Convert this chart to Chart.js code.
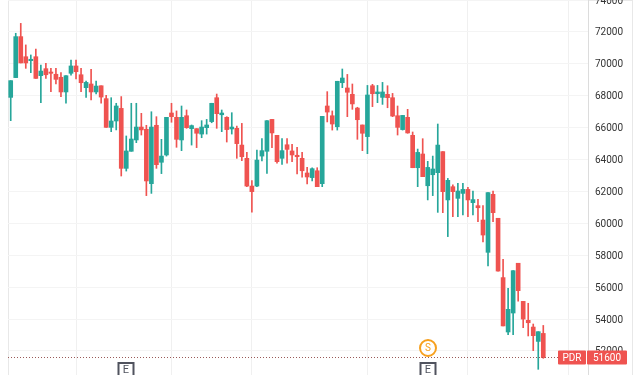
<!DOCTYPE html>
<html>
<head>
<meta charset="utf-8">
<style>
  html, body { margin: 0; padding: 0; background: #fff; overflow: hidden; }
  canvas { display: block; filter: blur(0.35px); }
</style>
<script src="https://cdn.jsdelivr.net/npm/chart.js@4/dist/chart.umd.min.js"></script>
</head>
<body>
<canvas id="chart" width="640" height="375"></canvas>
<script>
const opens = [
  67900,69140,71710,70450,70200,70450,69260,69700,69490,69350,69160,68240,69410,69870,69320,68510,68740,68240,68630,67820,66020,66420,67210,63450,64520,65230,66040,65900,62490,66150,63830,
  64290,66920,66650,65230,66750,65940,65940,65600,66000,66380,67880,66810,66650,65920,65960,64910,64080,62340,62340,64220,64520,66520,65520,64080,64930,64540,64270,64080,63160,62870,63300,62490,
  67360,66750,66060,68820,68490,68090,67230,66170,65440,68630,68130,67900,68090,67880,66750,65880,66650,65520,63490,64350,62360,63050,63180,64500,61470,62300,61570,61880,62130,61300,61110,
  60210,58185,61820,60320,56600,53190,54380,57500,55110,53920,53500,52600,53100
];
const highs = [
  68950,71920,72540,71190,70560,70930,69930,70040,69720,69720,69450,69260,70240,70240,69720,68930,69660,68930,68630,68030,67880,67530,67950,65480,67530,67530,66900,66150,67000,66690,65270,
  66650,67530,67050,67360,67110,66170,65940,66440,66520,67530,68110,67110,66690,66940,66100,66270,64450,62680,64600,65310,66440,66520,65520,65310,65310,64960,64770,64450,63510,63490,63490,66710,
  68260,67050,68910,69680,69340,68740,67280,66170,68650,68720,68650,68840,68630,68150,67360,66770,67150,65730,64660,65310,63890,64220,66230,64500,62820,62410,62510,62510,62260,62030,61510,
  61110,61930,62030,60320,57750,55930,57035,57500,55110,54990,53690,53210,53600
];
const lows = [
  66440,69140,70060,69720,69450,69090,67570,69090,68260,68740,67950,67530,69300,69050,68260,67900,67740,68110,67530,66020,65750,65860,62970,63280,64520,65060,65540,61740,61880,63450,63120,
  64220,66340,64770,64560,65960,64910,64750,65370,65600,66310,65960,65750,65100,65600,64080,63930,62300,60710,62300,63910,63140,64750,63770,63700,63770,63870,63100,62890,62470,62660,62300,62300,
  66360,65850,65850,68510,66690,67150,65270,64560,64370,67320,67570,67460,67250,66690,65540,65850,65650,63490,62300,62930,61470,61740,60690,60670,59170,60420,60420,60530,60420,60530,60110,
  58830,57330,60110,57010,53570,53020,53020,55130,53460,52940,52020,50850,51540
];
const closes = [
  68950,71710,70060,70060,70290,69090,69550,69320,69410,69030,68240,69260,69870,69510,68820,68840,68240,68610,67920,66020,66420,67360,63450,64540,65290,66040,65860,62660,66040,63680,64220,
  66650,66690,65270,66650,66000,66130,65650,66040,66170,67530,66880,66920,65880,66040,65000,64180,62340,61990,63970,64560,66440,65670,63870,64560,64640,64290,64180,63300,62910,63430,62300,66710,
  66980,66230,68910,69115,68220,67490,66500,65650,68050,68130,68240,68240,67880,66730,66020,66770,65670,63490,64450,62930,63510,63410,64910,61990,62700,61990,62030,62130,61470,61490,60980,
  59270,61930,60670,57010,53570,54610,57035,55780,54000,53770,52960,53210,51580
];
const priceTicks = [52000,54000,56000,58000,60000,62000,64000,66000,68000,70000,72000,74000];
const gridCandles = [13, 32, 48, 71, 91, 111]; // vertical grid lines, candle index
const earningsCandles = [23, 83];
const splitCandles = [83];
const lastPrice = 51600;
const symbol = 'PDR';

const UP = '#26a69a';
const DOWN = '#ef5350';
const colors = closes.map((c, i) => c >= opens[i] ? UP : DOWN);
const FONT = 'Roboto, sans-serif';

// price label, dotted line and the E / S markers on top of everything
const overlay = {
  id: 'overlay',
  beforeDraw(chart) {
    const { ctx, chartArea: a } = chart;
    ctx.save();
    ctx.strokeStyle = '#e8e8e8';
    ctx.lineWidth = 1;
    ctx.beginPath();
    ctx.moveTo(a.left + 0.5, 0); ctx.lineTo(a.left + 0.5, 375);
    ctx.moveTo(632.5, 0); ctx.lineTo(632.5, 375);
    ctx.moveTo(a.left, 0.5); ctx.lineTo(632, 0.5);
    ctx.stroke();
    ctx.restore();
  },
  afterDraw(chart) {
    const { ctx, chartArea: a, scales } = chart;
    const py = Math.round(scales.y.getPixelForValue(lastPrice)) + 0.5;
    ctx.save();
    ctx.strokeStyle = '#9a5a58';
    ctx.setLineDash([1, 2]);
    ctx.beginPath();
    ctx.moveTo(a.left, py);
    ctx.lineTo(558, py);
    ctx.stroke();
    ctx.setLineDash([]);

    ctx.fillStyle = DOWN;
    ctx.beginPath();
    ctx.roundRect(558, py - 7, 28, 14, 1);
    ctx.roundRect(587, py - 7, 40, 14, 1);
    ctx.fill();
    ctx.fillStyle = '#fff';
    ctx.font = '10px ' + FONT;
    ctx.textAlign = 'center';
    ctx.textBaseline = 'middle';
    ctx.fillText(symbol, 572, py + 0.5);
    ctx.fillText(String(lastPrice), 607, py + 0.5);

    earningsCandles.forEach(i => {
      const x = Math.round(scales.x.getPixelForValue(i));
      ctx.fillStyle = '#fff';
      ctx.strokeStyle = '#50535e';
      ctx.lineWidth = 2;
      ctx.beginPath();
      ctx.rect(x - 7.5, 363, 15, 20);
      ctx.fill();
      ctx.stroke();
      ctx.fillStyle = '#50535e';
      ctx.font = '11px ' + FONT;
      ctx.fillText('E', x, 370.5);
    });
    splitCandles.forEach(i => {
      const x = Math.round(scales.x.getPixelForValue(i));
      ctx.fillStyle = '#fff';
      ctx.strokeStyle = '#f7a01e';
      ctx.lineWidth = 2;
      ctx.beginPath();
      ctx.arc(x, 348, 8, 0, Math.PI * 2);
      ctx.fill();
      ctx.stroke();
      ctx.fillStyle = '#f7a01e';
      ctx.font = '10px ' + FONT;
      ctx.fillText('S', x, 348.5);
    });
    ctx.restore();
  }
};

new Chart(document.getElementById('chart'), {
  type: 'bar',
  data: {
    datasets: [
      {
        label: 'body',
        data: closes.map((c, i) => ({ x: i, y: [opens[i], c] })),
        backgroundColor: colors,
        barThickness: 4,
        grouped: false,
        order: 1
      },
      {
        label: 'wick',
        data: highs.map((h, i) => ({ x: i, y: [lows[i], h] })),
        backgroundColor: colors,
        barThickness: 1,
        grouped: false,
        order: 2
      }
    ]
  },
  options: {
    responsive: false,
    animation: false,
    layout: { padding: { left: 8, right: 8, top: 0, bottom: 0 } },
    plugins: { legend: { display: false }, tooltip: { enabled: false } },
    scales: {
      x: {
        type: 'linear',
        offset: false,
        min: -0.54,
        max: 114.9,
        grid: { offset: false, color: '#f0f0f0', drawTicks: false, tickLength: 0 },
        border: { display: false },
        ticks: { display: false },
        afterBuildTicks(scale) {
          scale.ticks = gridCandles.map(value => ({ value }));
        },
        afterFit(scale) {
          scale.height = 0;
          scale.paddingLeft = 0;
          scale.paddingRight = 0;
        }
      },
      y: {
        position: 'right',
        min: 50493,
        max: 74006,
        grid: { color: '#f4f4f4', drawTicks: false, tickLength: 0 },
        border: { display: true, color: '#dcdcdc' },
        ticks: {
          padding: 7,
          labelOffset: 1,
          autoSkip: false,
          color: '#333',
          font: { family: 'Roboto', size: 10 },
          callback: v => String(v)
        },
        afterBuildTicks(scale) {
          scale.ticks = priceTicks.map(value => ({ value }));
        },
        afterFit(scale) {
          scale.width = 44;
          scale.paddingTop = 0;
          scale.paddingBottom = 0;
        }
      }
    }
  },
  plugins: [overlay]
});
</script>
</body>
</html>
